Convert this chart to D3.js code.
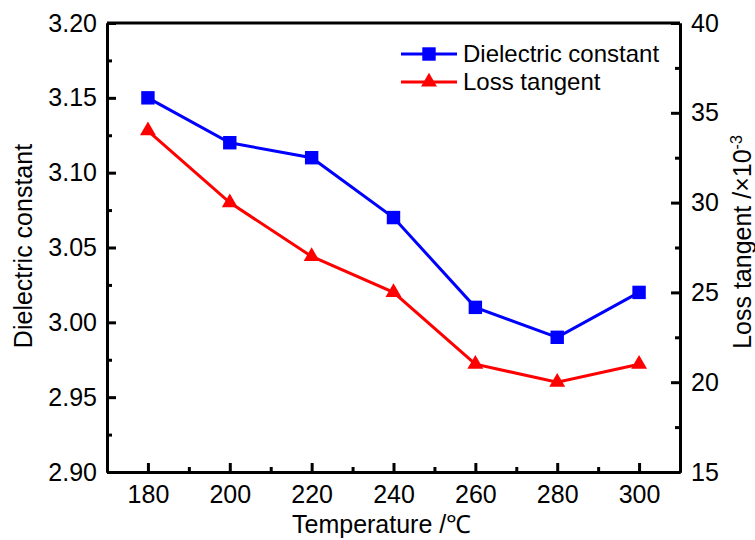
<!DOCTYPE html>
<html>
<head>
<meta charset="utf-8">
<script src="https://d3js.org/d3.v7.min.js"></script>
<style>
  body { margin: 0; background: #fff; }
  text { font-family: "Liberation Sans", Arial, sans-serif; fill: #000; }
</style>
</head>
<body>
<script>
// data
var temps = [180, 200, 220, 240, 260, 280, 300];
var dielectric = [3.15, 3.12, 3.11, 3.07, 3.01, 2.99, 3.02];
var lossTangent = [34, 30, 27, 25, 21, 20, 21];
var xTicks = [180, 200, 220, 240, 260, 280, 300];
var yLeftTicks = [2.90, 2.95, 3.00, 3.05, 3.10, 3.15, 3.20];
var yRightTicks = [15, 20, 25, 30, 35, 40];

var width = 755, height = 540;
var m = { left: 107, right: 680, top: 23, bottom: 472 };

var svg = d3.select("body").append("svg")
  .attr("width", width).attr("height", height);

var x = d3.scaleLinear().domain([170, 310]).range([m.left, m.right]);
var yL = d3.scaleLinear().domain([2.90, 3.20]).range([m.bottom, m.top]);
var yR = d3.scaleLinear().domain([15, 40]).range([m.bottom, m.top]);

var fs = 25;

// minor ticks halfway between the major ones
function minors(ticks) {
  var out = [];
  for (var i = 0; i < ticks.length - 1; i++) out.push((ticks[i] + ticks[i + 1]) / 2);
  return out;
}

// bottom axis
var gx = svg.append("g").attr("transform", "translate(0," + m.bottom + ")");
gx.call(d3.axisBottom(x).tickValues(xTicks).tickSizeInner(-9).tickSizeOuter(0).tickPadding(13));
gx.append("g").call(d3.axisBottom(x).tickValues(minors(xTicks)).tickSizeInner(-5).tickSizeOuter(0).tickFormat(""));

// left axis
var gl = svg.append("g").attr("transform", "translate(" + m.left + ",0)");
gl.call(d3.axisLeft(yL).tickValues(yLeftTicks).tickFormat(d3.format(".2f")).tickSizeInner(-9).tickSizeOuter(0).tickPadding(10));
gl.append("g").call(d3.axisLeft(yL).tickValues(minors(yLeftTicks)).tickSizeInner(-5).tickSizeOuter(0).tickFormat(""));

// right axis
var gr = svg.append("g").attr("transform", "translate(" + m.right + ",0)");
gr.call(d3.axisRight(yR).tickValues(yRightTicks).tickSizeInner(-9).tickSizeOuter(0).tickPadding(11));
gr.append("g").call(d3.axisRight(yR).tickValues(minors(yRightTicks)).tickSizeInner(-5).tickSizeOuter(0).tickFormat(""));

// top border
svg.append("line")
  .attr("x1", m.left).attr("x2", m.right)
  .attr("y1", m.top).attr("y2", m.top)
  .attr("stroke", "#000").attr("stroke-width", 3);

svg.selectAll(".domain").attr("stroke", "#000").attr("stroke-width", 3);
svg.selectAll(".tick line").attr("stroke", "#000").attr("stroke-width", 3);
svg.selectAll(".tick text").style("font-size", fs + "px").style("font-family", "'Liberation Sans', Arial, sans-serif").attr("fill", "#000");

// lines
var lineL = d3.line().x(function(d, i) { return x(temps[i]); }).y(function(d) { return yL(d); });
var lineR = d3.line().x(function(d, i) { return x(temps[i]); }).y(function(d) { return yR(d); });

svg.append("path").datum(dielectric).attr("d", lineL)
  .attr("fill", "none").attr("stroke", "#0000ff").attr("stroke-width", 3);
svg.append("path").datum(lossTangent).attr("d", lineR)
  .attr("fill", "none").attr("stroke", "#ff0000").attr("stroke-width", 3);

var sq = d3.symbol().type(d3.symbolSquare).size(180);
var tri = d3.symbol().type(d3.symbolTriangle).size(110);

svg.selectAll(".sq").data(dielectric).enter().append("path")
  .attr("d", sq)
  .attr("transform", function(d, i) { return "translate(" + x(temps[i]) + "," + yL(d) + ")"; })
  .attr("fill", "#0000ff");
svg.selectAll(".tri").data(lossTangent).enter().append("path")
  .attr("d", tri)
  .attr("transform", function(d, i) { return "translate(" + x(temps[i]) + "," + yR(d) + ")"; })
  .attr("fill", "#ff0000");

// legend
var legend = [
  { name: "Dielectric constant", color: "#0000ff", sym: sq, y: 54 },
  { name: "Loss tangent", color: "#ff0000", sym: tri, y: 82 }
];
legend.forEach(function(d) {
  svg.append("line").attr("x1", 401).attr("x2", 457).attr("y1", d.y).attr("y2", d.y)
    .attr("stroke", d.color).attr("stroke-width", 3);
  svg.append("path").attr("d", d.sym).attr("transform", "translate(429," + d.y + ")").attr("fill", d.color);
  svg.append("text").attr("x", 463).attr("y", d.y + 8).style("font-size", "24px").text(d.name);
});

// axis titles
var bt = svg.append("text").attr("x", 292).attr("y", 533).style("font-size", fs + "px");
bt.append("tspan").text("Temperature /");
bt.append("tspan").text("℃");

svg.append("text").attr("transform", "translate(32,246) rotate(-90)")
  .attr("text-anchor", "middle").style("font-size", fs + "px").text("Dielectric constant");

var rt = svg.append("text").attr("transform", "translate(751,242) rotate(-90)")
  .attr("text-anchor", "middle").style("font-size", fs + "px");
rt.append("tspan").text("Loss tangent /×10");
rt.append("tspan").attr("dy", -9).style("font-size", "16px").text("-3");
</script>
</body>
</html>
